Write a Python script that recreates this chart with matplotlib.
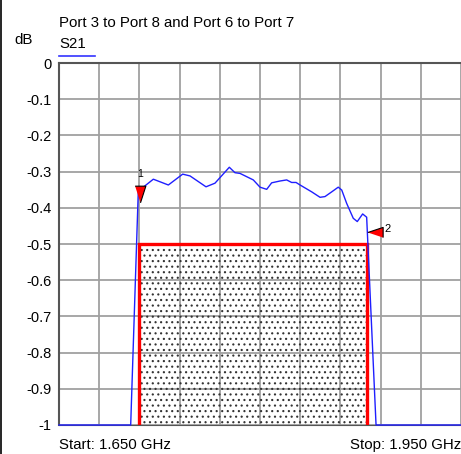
import matplotlib
matplotlib.use("Agg")
from matplotlib import pyplot as plt
from matplotlib.patches import Rectangle
from matplotlib.lines import Line2D

plt.rcParams['font.family'] = ['Liberation Sans', 'DejaVu Sans']
plt.rcParams['hatch.linewidth'] = 0.8

# S21 trace (GHz, dB)
freq = [1.650, 1.7035, 1.7092, 1.7129, 1.7204, 1.7316, 1.7423, 1.7478, 1.7597,
        1.7664, 1.7771, 1.7813, 1.7851, 1.7950, 1.8000, 1.8050, 1.8087, 1.8149,
        1.8199, 1.8236, 1.8269, 1.8299, 1.8386, 1.8448, 1.8485, 1.8535, 1.8584,
        1.8610, 1.8647, 1.8696, 1.8726, 1.8766, 1.8796, 1.8866, 1.950]
s21 = [-1.0, -1.0, -0.351, -0.343, -0.321, -0.337, -0.307, -0.312, -0.342,
       -0.332, -0.288, -0.303, -0.305, -0.323, -0.343, -0.349, -0.331, -0.326,
       -0.323, -0.330, -0.330, -0.337, -0.356, -0.371, -0.369, -0.356, -0.343,
       -0.351, -0.388, -0.429, -0.438, -0.417, -0.426, -1.0, -1.0]

# spec mask (passband limit)
mask_start, mask_stop, mask_level = 1.71, 1.88, -0.5

# markers
marker_freq = [1.7102, 1.8858]
marker_db = [-0.362, -0.467]

f_start, f_stop = 1.650, 1.950
y_ticks = [0, -0.1, -0.2, -0.3, -0.4, -0.5, -0.6, -0.7, -0.8, -0.9, -1]
y_labels = ['0', '-0.1', '-0.2', '-0.3', '-0.4', '-0.5', '-0.6', '-0.7', '-0.8', '-0.9', '-1']

W, H = 461, 454
fig = plt.figure(figsize=(W / 100, H / 100), dpi=100)
ax = fig.add_axes([59 / W, (H - 425) / H, 402 / W, 362 / H])

ax.set_xlim(f_start, f_stop)
ax.set_ylim(-1, 0)
ax.set_xticks([f_start + i * (f_stop - f_start) / 10 for i in range(11)])
ax.set_xticklabels([])
ax.set_yticks(y_ticks)
ax.set_yticklabels(y_labels, fontsize=10.5)
ax.tick_params(length=0, pad=5.3)
ax.grid(True, color='#a0a0a0', linewidth=1.3, zorder=0)
ax.set_axisbelow(True)
for side in ['left', 'top']:
    ax.spines[side].set_color('#555555')
    ax.spines[side].set_linewidth(1.5)
ax.spines['right'].set_visible(False)
ax.spines['bottom'].set_color('#555555')

# hatched mask region, red outline on three sides
ax.add_patch(Rectangle((mask_start, -1), mask_stop - mask_start, mask_level + 1,
                       facecolor='none', edgecolor='#333333', hatch='...',
                       linewidth=0, zorder=1))
ax.plot([mask_start, mask_start, mask_stop, mask_stop], [-1, mask_level, mask_level, -1],
        color='red', linewidth=2.4, zorder=3, solid_joinstyle='miter')

ax.plot(freq, s21, color='#1f1fff', linewidth=1.0, zorder=4, clip_on=False)

m1 = [(-4.5, 7), (4.5, 7), (0, -7)]
m2 = [(-6, 0), (6, 4), (6, -4)]
ax.plot(marker_freq[0], marker_db[0], marker=m1, markersize=12,
        markerfacecolor='red', markeredgecolor='black', markeredgewidth=0.8, zorder=5)
ax.plot(marker_freq[1], marker_db[1], marker=m2, markersize=11,
        markerfacecolor='red', markeredgecolor='black', markeredgewidth=0.8, zorder=5)
ax.annotate('1', (marker_freq[0], marker_db[0]), xytext=(0, 15),
            textcoords='offset pixels', ha='center', va='bottom', fontsize=7.5)
ax.annotate('2', (marker_freq[1], marker_db[1]), xytext=(9, 3),
            textcoords='offset pixels', ha='left', va='center', fontsize=8)

# header and footer texts
fig.text(59 / W, 1 - 27 / H, 'Port 3 to Port 8 and Port 6 to Port 7',
         fontsize=10.8, va='baseline', ha='left')
fig.text(14 / W, 1 - 44 / H, 'dB', fontsize=10.8, va='baseline', ha='left')
fig.text(59 / W, 1 - 48 / H, 'S21', fontsize=10.8, va='baseline', ha='left')
fig.add_artist(Line2D([59 / W, 95 / W], [1 - 55.5 / H, 1 - 55.5 / H],
                      color='#3333ff', linewidth=1.2, transform=fig.transFigure))
fig.text(59 / W, 5 / H, 'Start: 1.650 GHz', fontsize=10.8, va='baseline', ha='left')
fig.text(461 / W, 5 / H, 'Stop: 1.950 GHz', fontsize=10.8, va='baseline', ha='right')
fig.add_artist(Line2D([0.5 / W, 0.5 / W], [0, 1], color='black', linewidth=1.2,
                      transform=fig.transFigure))

fig.savefig('out.png', dpi=100)
